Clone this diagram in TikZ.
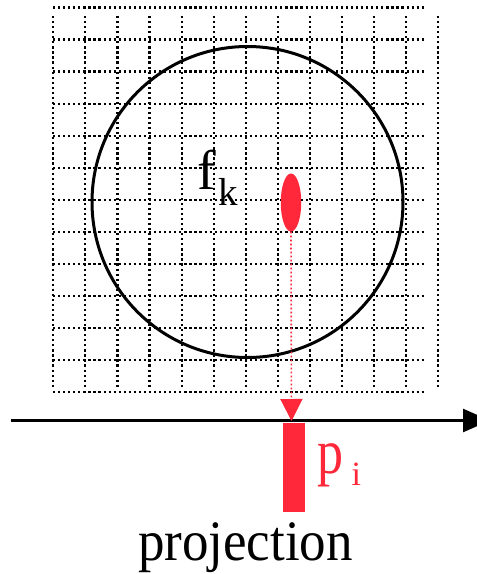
\documentclass[tikz,border=0pt]{standalone}
\usepackage{fontspec}
\setmainfont{Liberation Serif}
\usetikzlibrary{arrows.meta,shapes.geometric}
\definecolor{pred}{RGB}{255,40,58}
\tikzset{
  gridline/.style={line width=2.2pt, dash pattern=on 2.2pt off 2.85pt, black},
  ring/.style={circle, draw=black, line width=3pt, inner sep=0pt},
  blob/.style={ellipse, fill=pred, draw=none, inner sep=0pt},
  bar/.style={rectangle, fill=pred, draw=none, inner sep=0pt},
  axisline/.style={line width=2.6pt, black, -{Triangle[length=27pt,width=23pt]}},
  projline/.style={line width=1.6pt, pred, dash pattern=on 1.6pt off 2.4pt, -{Triangle[length=22pt,width=22pt]}},
  lbl/.style={inner sep=0pt, anchor=base west},
}
\begin{document}
\begin{tikzpicture}[x=1pt,y=-1pt]
\useasboundingbox (0,0) rectangle (477,574);
% grid
\foreach \i in {0,...,12}{
  \draw[gridline] (53,7.5+32.04*\i) -- (426,7.5+32.04*\i);
  \draw[gridline] (53.3+32.08*\i,16) -- (53.3+32.08*\i,388);
}
% circle
\node[ring, minimum size=311pt] (circ) at (247.5,202) {};
% red ellipse
\node[blob, minimum width=20.5pt, minimum height=58pt] (el) at (291,202.5) {};
% axis
\coordinate (axL) at (11,420.5);
\coordinate (axR) at (490,420.5);
\draw[axisline] (axL) -- (axR);
% projection bar
\node[bar, minimum width=22.5pt, minimum height=89pt] (pbar) at (293.8,467.3) {};
% projection line
\coordinate (tip) at (291.5,421);
\draw[projline] (el.south) -- (tip);
% labels
\node[lbl, font=\fontsize{56}{56}\selectfont] (fk) at (197,189) {f\hspace{3pt}\raisebox{-16pt}{\fontsize{39}{39}\selectfont k}};
\node[lbl, text=pred, font=\fontsize{52}{52}\selectfont] (pi) at (317.5,473) {\scalebox{1}[1.22]{p}\hspace{8pt}\raisebox{-12pt}{\fontsize{34}{34}\selectfont i}};
\node[inner sep=0pt, anchor=base, font=\fontsize{53}{53}\selectfont] (proj) at (245.5,560.5) {\scalebox{1}[1.08]{projection}};
\end{tikzpicture}
\end{document}
